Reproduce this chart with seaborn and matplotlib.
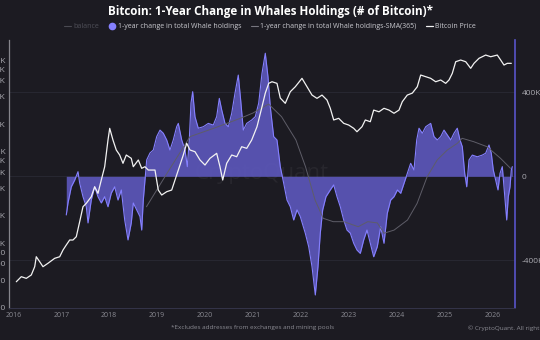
import numpy as np
import pandas as pd
import matplotlib
matplotlib.use("Agg")
import matplotlib.pyplot as plt
import seaborn as sns
from matplotlib.lines import Line2D
from matplotlib.ticker import FixedLocator, NullLocator, FixedFormatter

# ---------------- data ----------------
whale_year = [2017.106, 2017.142, 2017.211, 2017.282, 2017.351, 2017.386, 2017.455, 2017.524, 2017.560, 2017.628,
              2017.699, 2017.768, 2017.837, 2017.908, 2017.977, 2018.046, 2018.117, 2018.186, 2018.255, 2018.326,
              2018.395, 2018.463, 2018.505, 2018.576, 2018.645, 2018.681, 2018.714, 2018.749, 2018.785, 2018.854,
              2018.923, 2018.994, 2019.063, 2019.132, 2019.203, 2019.271, 2019.340, 2019.411, 2019.445, 2019.516,
              2019.585, 2019.633, 2019.674, 2019.710, 2019.745, 2019.793, 2019.862, 2019.967, 2020.071, 2020.175,
              2020.246, 2020.301, 2020.351, 2020.420, 2020.489, 2020.560, 2020.628, 2020.697, 2020.747, 2020.802,
              2020.873, 2020.977, 2021.052, 2021.123, 2021.192, 2021.261, 2021.317, 2021.365, 2021.436, 2021.505,
              2021.574, 2021.645, 2021.714, 2021.783, 2021.854, 2021.923, 2021.992, 2022.096, 2022.167, 2022.236,
              2022.305, 2022.361, 2022.409, 2022.459, 2022.528, 2022.618, 2022.689, 2022.758, 2022.827, 2022.898,
              2022.967, 2023.036, 2023.107, 2023.175, 2023.244, 2023.315, 2023.384, 2023.453, 2023.524, 2023.599,
              2023.670, 2023.739, 2023.808, 2023.879, 2023.948, 2024.019, 2024.088, 2024.157, 2024.225, 2024.296,
              2024.365, 2024.422, 2024.470, 2024.539, 2024.610, 2024.714, 2024.783, 2024.852, 2024.923, 2024.992,
              2025.061, 2025.132, 2025.200, 2025.269, 2025.326, 2025.374, 2025.424, 2025.466, 2025.514, 2025.583,
              2025.687, 2025.791, 2025.862, 2025.931, 2025.979, 2026.021, 2026.071, 2026.119, 2026.161, 2026.209,
              2026.244, 2026.301, 2026.334, 2026.370, 2026.397, 2026.418]
whale_change_k = [-184, -127, -50, -18, 22, -32, -97, -145, -222, -113,
                  -50, -97, -127, -97, -145, -80, -50, -113, -65, -208,
                  -303, -222, -127, -160, -192, -256, -113, -18, 78, 111,
                  125, 189, 220, 205, 173, 125, 173, 236, 252, 173,
                  125, 46, 173, 349, 403, 284, 229, 236, 252, 244,
                  284, 371, 316, 252, 236, 300, 395, 482, 363, 220,
                  252, 268, 284, 348, 490, 586, 474, 331, 189, 173,
                  46, -33, -113, -145, -208, -160, -192, -271, -335, -430,
                  -565, -430, -271, -160, -97, -65, -41, -97, -145, -208,
                  -256, -271, -319, -351, -367, -303, -256, -319, -383, -335,
                  -240, -319, -176, -113, -97, -65, -81, -33, 14, 62,
                  30, 173, 229, 205, 236, 252, 189, 173, 189, 220,
                  197, 173, 205, 229, 173, 141, 14, -50, 78, 101,
                  93, 101, 110, 149, 110, 30, -18, -65, 14, 46,
                  -50, -208, -97, -50, 30, 46]

sma_year = [2018.78, 2019.20, 2019.69, 2020.20, 2020.75, 2021.00, 2021.33, 2021.60, 2021.90, 2022.10,
            2022.30, 2022.47, 2022.68, 2022.90, 2023.20, 2023.40, 2023.60, 2023.74, 2023.95, 2024.23,
            2024.43, 2024.64, 2024.85, 2025.06, 2025.27, 2025.37, 2025.61, 2025.89, 2026.17, 2026.38]
sma_change_k = [-145, 11, 189, 230, 277, 301, 344, 284, 173, 46,
                -113, -200, -216, -216, -240, -216, -222, -271, -256, -208,
                -129, -2, 78, 125, 157, 181, 165, 141, 86, 38]

price_year = [2016.063, 2016.167, 2016.271, 2016.376, 2016.447, 2016.480, 2016.551, 2016.620, 2016.724, 2016.864,
              2016.969, 2017.038, 2017.106, 2017.177, 2017.246, 2017.315, 2017.386, 2017.455, 2017.524, 2017.628,
              2017.699, 2017.768, 2017.837, 2017.908, 2017.977, 2018.013, 2018.081, 2018.150, 2018.221, 2018.290,
              2018.359, 2018.463, 2018.505, 2018.610, 2018.681, 2018.749, 2018.818, 2018.958, 2019.027, 2019.098,
              2019.203, 2019.307, 2019.376, 2019.445, 2019.549, 2019.620, 2019.689, 2019.793, 2019.898, 2020.002,
              2020.106, 2020.246, 2020.315, 2020.372, 2020.455, 2020.560, 2020.664, 2020.768, 2020.873, 2020.977,
              2021.088, 2021.192, 2021.261, 2021.332, 2021.401, 2021.505, 2021.574, 2021.678, 2021.783, 2021.887,
              2022.027, 2022.132, 2022.236, 2022.340, 2022.445, 2022.549, 2022.618, 2022.689, 2022.793, 2022.898,
              2023.002, 2023.107, 2023.175, 2023.280, 2023.349, 2023.453, 2023.524, 2023.635, 2023.739, 2023.843,
              2023.948, 2024.052, 2024.121, 2024.225, 2024.330, 2024.434, 2024.505, 2024.610, 2024.714, 2024.818,
              2024.923, 2025.027, 2025.096, 2025.165, 2025.236, 2025.340, 2025.445, 2025.549, 2025.618, 2025.722,
              2025.862, 2025.967, 2026.104, 2026.175, 2026.244, 2026.313, 2026.397]
price_usd = [383, 435, 417, 454, 559, 718, 634, 559, 609, 690,
             718, 850, 964, 1093, 1093, 1187, 1731, 2523, 2748, 3244,
             4170, 3532, 4935, 6892, 13480, 18080, 13480, 10490, 9250, 7510,
             9250, 8510, 6892, 8160, 6620, 6892, 6340, 6340, 3838, 3385,
             3679, 3838, 4935, 6340, 9250, 12410, 10490, 10050, 8160, 7190,
             8510, 9650, 6892, 4935, 7510, 9250, 8860, 11390, 10940, 13480,
             18840, 31100, 43800, 56000, 58300, 56000, 38700, 33900, 45400, 51400,
             63500, 51400, 41700, 38400, 41700, 36800, 29900, 22300, 23250, 20500,
             19640, 18080, 16600, 18840, 22300, 21350, 28600, 27400, 29900, 28600,
             26400, 28600, 35300, 41700, 43800, 51400, 69000, 66200, 63500, 58300,
             60900, 56000, 60900, 72000, 96400, 100600, 96400, 81700, 92600, 105000,
             114000, 109300, 114000, 100600, 88700, 92600, 92600]

year_ticks = [2016, 2017, 2018, 2019, 2020, 2021, 2022, 2023, 2024, 2025, 2026]
whale_ticks_k = [-400, 0, 400]
whale_tick_labels = ["-400K", "0", "400K"]
price_ticks = [200, 400, 600, 800, 1000, 2000, 4000, 6000, 8000, 10000, 20000, 40000, 60000, 80000, 100000]
price_tick_labels = ["200", "400", "600", "800", "1K", "2K", "4K", "6K", "8K", "10K", "20K", "40K", "60K", "80K", "100K"]

title = "Bitcoin: 1-Year Change in Whales Holdings (# of Bitcoin)*"
legend_labels = ["balance", "1-year change in total Whale holdings",
                 "1-year change in total Whale holdings-SMA(365)", "Bitcoin Price"]
footnote = "*Excludes addresses from exchanges and mining pools"
credit = "\u00a9 CryptoQuant. All rights reserved."

whale_df = pd.DataFrame({"year": whale_year, "change": whale_change_k})
sma_df = pd.DataFrame({"year": sma_year, "change": sma_change_k})
price_df = pd.DataFrame({"year": price_year, "price": price_usd})

# ---------------- style ----------------
sns.set_theme(style="dark")
plt.rcParams['font.family'] = ['Open Sans', 'DejaVu Sans']

BG = "#1c1b22"
PURPLE_LINE = "#8580ff"
PURPLE_FILL = "#5d58bd"
SMA_COL = "#5e5d68"
PRICE_COL = "#f2f2f2"
TICK_COL = "#a9a9b0"

fig = plt.figure(figsize=(5.4, 3.4), dpi=100, facecolor=BG)
ax = fig.add_axes([8.5 / 540, 1 - 308 / 340, (515 - 8.5) / 540, (308 - 40) / 340])
ax.set_facecolor(BG)

# whale series on primary axis (right ticks)
ax.fill_between(whale_df["year"], 0, whale_df["change"], color=PURPLE_FILL, alpha=0.9, lw=0, zorder=2)
sns.lineplot(data=whale_df, x="year", y="change", ax=ax, color=PURPLE_LINE, lw=0.8, zorder=3)
sns.lineplot(data=sma_df, x="year", y="change", ax=ax, color=SMA_COL, lw=0.7, zorder=4)

ax.set_xlim(2015.90, 2026.474)
ax.set_ylim(-627, 649)
ax.xaxis.set_major_locator(FixedLocator(year_ticks))
ax.set_xticklabels([str(y) for y in year_ticks])
ax.tick_params(axis="x", colors="#8a8a92", labelsize=5, pad=3, length=0)
ax.set_xlabel("")
ax.set_ylabel("")
ax.grid(True, axis="y", color="#2a2a34", lw=0.6)
ax.grid(False, axis="x")

# price on twin axis (left ticks, log)
ax2 = ax.twinx()
sns.lineplot(data=price_df, x="year", y="price", ax=ax2, color=PRICE_COL, lw=0.9, zorder=5)
ax2.set_yscale("log")
ax2.set_ylim(198, 166400)
ax2.yaxis.tick_left()
ax2.yaxis.set_major_locator(FixedLocator(price_ticks))
ax2.yaxis.set_major_formatter(FixedFormatter(price_tick_labels))
ax2.yaxis.set_minor_locator(NullLocator())
ax2.tick_params(axis="y", colors=TICK_COL, labelsize=6, pad=2, length=0)
ax2.set_ylabel("")
ax2.set_xlabel("")
ax2.grid(False)

# whale axis ticks on the right (after twinx, which moves them left)
ax.yaxis.tick_right()
ax.yaxis.set_major_locator(FixedLocator(whale_ticks_k))
ax.yaxis.set_major_formatter(FixedFormatter(whale_tick_labels))
ax.tick_params(axis="y", which="both", left=False, labelleft=False, right=False,
               labelright=True, colors=TICK_COL, labelsize=6, pad=5, length=0)

for a in (ax, ax2):
    for s in a.spines.values():
        s.set_visible(False)
ax2.spines["left"].set_visible(True)
ax2.spines["left"].set_color("#85858c")
ax2.spines["left"].set_linewidth(0.9)
ax2.spines["right"].set_visible(True)
ax2.spines["right"].set_color("#5954c9")
ax2.spines["right"].set_linewidth(1.2)
ax2.spines["bottom"].set_visible(True)
ax2.spines["bottom"].set_color("#34344a")
ax2.spines["bottom"].set_linewidth(0.7)

# watermark
ax.text(0.5, 0.5, "CryptoQuant", transform=ax.transAxes, ha="center", va="center",
        fontsize=16, color="#ffffff", alpha=0.05, zorder=1)

# title, legend, footnotes
fig.text(0.5, 1 - 11 / 340, title, ha="center", va="center", fontsize=8.4,
         fontweight="bold", color="#ffffff")

handles = [Line2D([], [], color="#4a4a52", lw=0.8),
           Line2D([], [], marker="o", color=PURPLE_LINE, ls="none", ms=4.5),
           Line2D([], [], color="#77767f", lw=0.8),
           Line2D([], [], color=PRICE_COL, lw=0.9)]
leg = fig.legend(handles, legend_labels, loc="center", bbox_to_anchor=(0.5, 1 - 27 / 340),
                 ncol=4, frameon=False, fontsize=5.0, handlelength=1.0, handletextpad=0.4,
                 columnspacing=1.3)
for t, c in zip(leg.get_texts(), ["#4f4f58", "#c9c9cf", "#c9c9cf", "#c9c9cf"]):
    t.set_color(c)

fig.text(253 / 540, 1 - 328 / 340, footnote, ha="center", va="center", fontsize=4.6, color="#8a8a92")
fig.text(468 / 540, 1 - 328 / 340, credit, ha="left", va="center", fontsize=4.6, color="#8a8a92")

fig.savefig("out.png", dpi=100, facecolor=BG)
